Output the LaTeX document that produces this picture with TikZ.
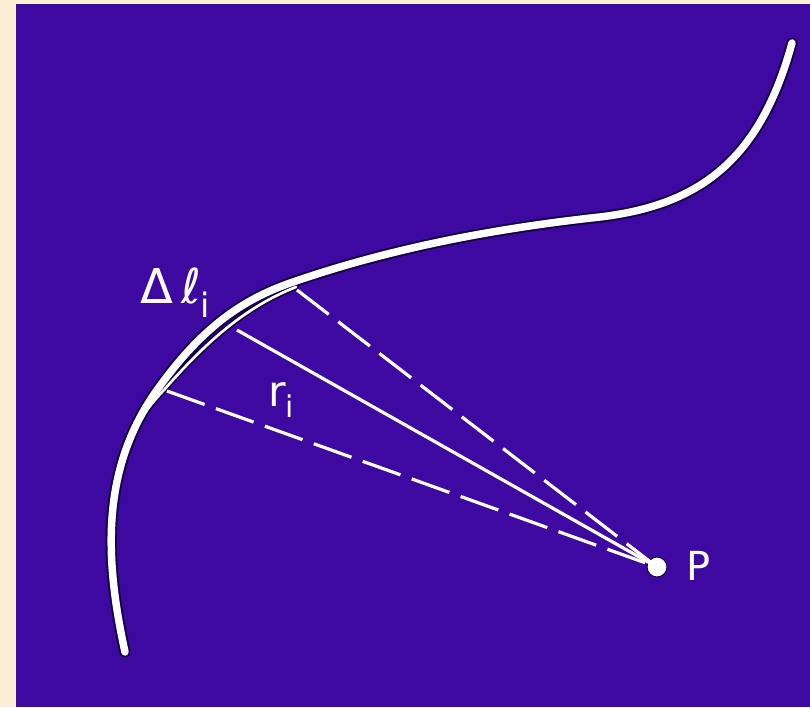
\documentclass[tikz,border=0pt]{standalone}
\usepackage{fontspec}
\setmainfont{DejaVu Sans}
\begin{document}
\begin{tikzpicture}[x=0.75pt,y=-0.75pt,
  line join=round,
  curveline/.style={line cap=round},
  ray/.style={white, line width=2.4pt},
  longdash/.style={dash pattern=on 30pt off 9pt},
  lbl/.style={white, inner sep=0pt, anchor=base west}]
\definecolor{bgblue}{RGB}{62,9,160}
\definecolor{beige}{RGB}{250,238,215}
\definecolor{edge}{RGB}{20,0,70}
\useasboundingbox (0,0) rectangle (810,707);
\fill[beige] (0,0) rectangle (810,707);
\fill[bgblue] (16,4) rectangle (810,707);
% curve
\def\curvepath{(125,652) .. controls (105,560) and (100,470) .. (157,390)
  .. controls (200,330) and (240,300) .. (293,282)
  .. controls (380,252) and (480,230) .. (600,217)
  .. controls (700,205) and (760,160) .. (792,43)}
\def\innerpath{(122,470) .. controls (126,440) and (140,415) .. (164,390)
  .. controls (205,343) and (245,307) .. (296,287)}
\draw[edge, line width=8.5pt, curveline] \curvepath;
\draw[edge, line width=4.5pt, curveline] \innerpath;
\draw[white, line width=5.6pt, curveline] \curvepath;
\draw[white, line width=2pt, curveline] \innerpath;
% points
\coordinate (A) at (297,290);
\coordinate (B) at (237,330);
\coordinate (C) at (167,391);
\node[circle, fill=white, draw=edge, line width=0.8pt, minimum size=15pt, inner sep=0pt] (P) at (657,567) {};
\draw[ray, longdash] (A) -- (P.center);
\draw[ray] (B) -- (P.center);
\draw[ray, longdash] (C) -- (P.center);
% labels
\node[lbl, font=\fontsize{36}{40}\selectfont] (dl) at (140,303) {Δ\,ℓ\textsubscript{i}};
\node[lbl, font=\fontsize{32}{36}\selectfont] (ri) at (268,406) {r\textsubscript{i}};
\node[lbl, font=\fontsize{30}{34}\selectfont] (Pl) at (686,580) {P};
\end{tikzpicture}
\end{document}
